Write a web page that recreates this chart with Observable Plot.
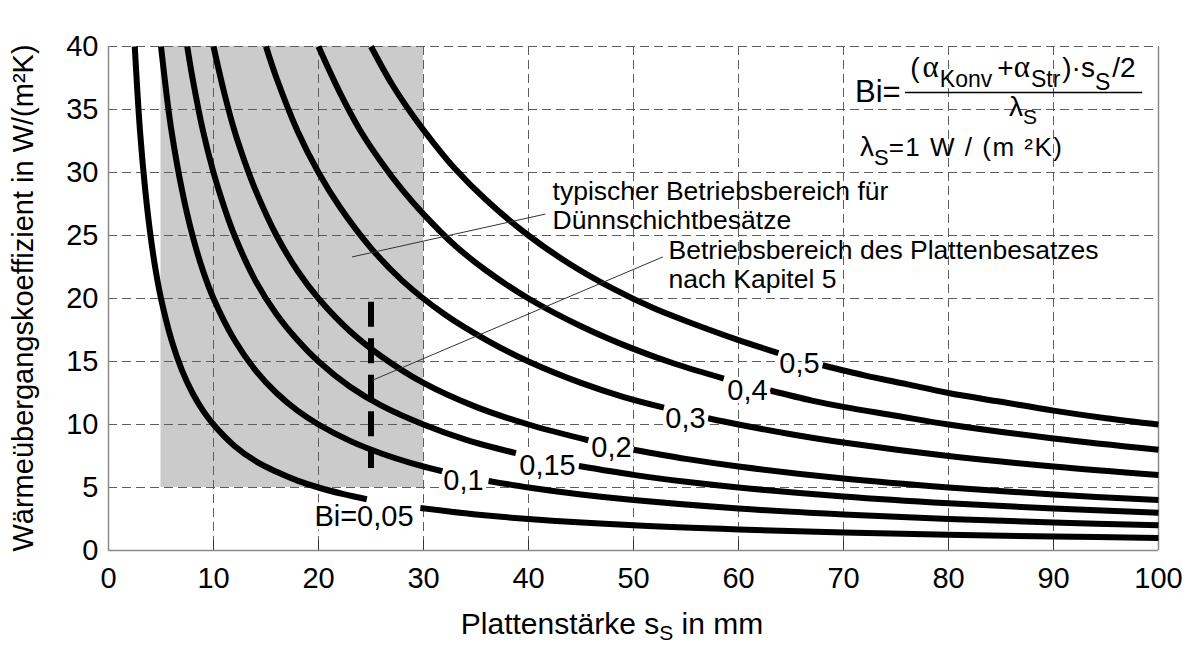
<!DOCTYPE html>
<html><head><meta charset="utf-8">
<script src="https://cdn.jsdelivr.net/npm/d3@7"></script>
<script src="https://cdn.jsdelivr.net/npm/@observablehq/plot@0.6"></script>
<style>
html,body{margin:0;padding:0;background:#fff;}
#chart svg{display:block;}
</style></head><body><div id="chart"></div>
<script>
// ---- data ----
const xTicks = [0, 10, 20, 30, 40, 50, 60, 70, 80, 90, 100];
const yTicks = [0, 5, 10, 15, 20, 25, 30, 35, 40];
const biLabels = ["Bi=0,05", "0,1", "0,15", "0,2", "0,3", "0,4", "0,5"];

const s005 = [2.5, 3, 3.5, 4, 4.5, 5, 6, 7, 8, 9, 10, 12, 14, 16, 18, 20, 22.5, 24.6, 27, 29.7, 35, 40, 50, 60, 70, 80, 90, 100];
const h005 = [40, 33.3, 28.6, 25, 22.2, 20, 16.7, 14.3, 12.5, 11.1, 10, 8.3, 7.1, 6.25, 5.55, 5, 4.45, 4.07, NaN, 3.37, 2.86, 2.5, 2, 1.67, 1.43, 1.25, 1.11, 1];
const s01 = [5, 5.5, 6, 7, 8, 9, 10, 12, 14, 16, 18, 20, 23, 26, 29, 31.8, 34, 36.2, 40, 45, 50, 60, 70, 80, 90, 100];
const h01 = [40, 36.4, 33.3, 28.6, 25, 22.2, 20, 16.7, 14.3, 12.5, 11.1, 10, 8.7, 7.7, 6.9, 6.29, NaN, 5.52, 5, 4.44, 4, 3.33, 2.86, 2.5, 2.22, 2];
const s015 = [7.5, 8, 9, 10, 11, 12, 14, 16, 18, 20, 23, 26, 30, 34, 38.8, 42, 44.8, 50, 55, 60, 70, 80, 90, 100];
const h015 = [40, 37.5, 33.3, 30, 27.3, 25, 21.4, 18.75, 16.7, 15, 13, 11.5, 10, 8.8, 7.73, NaN, 6.7, 6, 5.45, 5, 4.29, 3.75, 3.33, 3];
const s02 = [10, 11, 12, 13, 14, 16, 18, 20, 23, 26, 30, 35, 40, 45.7, 48, 50, 55, 60, 70, 80, 90, 100];
const h02 = [40, 36.4, 33.3, 30.8, 28.6, 25, 22.2, 20, 17.4, 15.4, 13.3, 11.4, 10, 8.75, NaN, 8, 7.27, 6.67, 5.71, 5, 4.44, 4];
const s03 = [15, 16, 18, 20, 22, 25, 28, 32, 36, 40, 45, 49, 52.9, 55, 57.1, 60, 65, 70, 80, 90, 100];
const h03 = [40, 37.5, 33.3, 30, 27.3, 24, 21.4, 18.75, 16.7, 15, 13.3, 12.2, 11.34, NaN, 10.5, 10, 9.23, 8.57, 7.5, 6.67, 6];
const s04 = [20, 22, 24, 26, 28, 30, 33, 36, 40, 45, 50, 54, 58.6, 61, 63, 67, 70, 75, 80, 90, 100];
const h04 = [40, 36.4, 33.3, 30.8, 28.6, 26.7, 24.2, 22.2, 20, 17.8, 16, 14.8, 13.65, NaN, 12.7, 11.9, 11.4, 10.7, 10, 8.89, 8];
const s05 = [25, 27, 29, 31, 33, 36, 40, 44, 48, 52, 56, 60, 63.8, 66, 68, 72, 76, 80, 85, 90, 95, 100];
const h05 = [40, 37, 34.5, 32.3, 30.3, 27.8, 25, 22.7, 20.8, 19.2, 17.9, 16.7, 15.67, NaN, 14.7, 13.9, 13.2, 12.5, 11.8, 11.1, 10.5, 10];

const labelS = [24.33, 33.81, 41.81, 47.9, 54.95, 60.86, 65.81];
const labelH = [2.7, 5.56, 6.75, 8.17, 10.48, 12.7, 14.84];

const regionS = [5, 30];
const regionH = [5, 40];
const markerS = 25;
const markerH = [19.7, 6.5];

const leaderS1 = [23.2, 41.6], leaderH1 = [23.3, 26.7];
const leaderS2 = [25.1, 52.8], leaderH2 = [13.5, 23.3];

const annotText = ["typischer Betriebsbereich für", "Dünnschichtbesätze", "Betriebsbereich des Plattenbesatzes", "nach Kapitel 5"];
const annotS = [42.29, 42.29, 53.33, 53.33];
const annotH = [27.78, 25.48, 23.1, 20.87];

// ---- tables ----
const seriesS = [s005, s01, s015, s02, s03, s04, s05];
const seriesH = [h005, h01, h015, h02, h03, h04, h05];
const curves = seriesS.flatMap((ss, i) => ss.map((s, j) => ({bi: biLabels[i], s, h: seriesH[i][j]})));
const labels = biLabels.map((t, i) => ({t, s: labelS[i], h: labelH[i]}));
const leaders = [
  {x1: leaderS1[0], x2: leaderS1[1], y1: leaderH1[0], y2: leaderH1[1]},
  {x1: leaderS2[0], x2: leaderS2[1], y1: leaderH2[0], y2: leaderH2[1]}
];
const annots = annotText.map((t, i) => ({t, s: annotS[i], h: annotH[i]}));

const FONT = "'Liberation Sans', Arial, Helvetica, sans-serif";
const SERIF = "'Liberation Serif', 'DejaVu Serif', serif";
const gridStyle = {stroke: "#5e5e5e", strokeOpacity: 1, strokeWidth: 1, strokeDasharray: "9,5"};

const plot = Plot.plot({
  width: 1190, height: 648,
  marginLeft: 108, marginRight: 32, marginTop: 46, marginBottom: 98,
  x: {domain: [0, 100]},
  y: {domain: [0, 40]},
  style: {fontFamily: FONT, fontSize: "29px", color: "#000", background: "#fff"},
  marks: [
    Plot.rect([{x1: regionS[0], x2: regionS[1], y1: regionH[0], y2: regionH[1]}],
      {x1: "x1", x2: "x2", y1: "y1", y2: "y2", fill: "#cbcbcb"}),
    Plot.gridX(xTicks.slice(1, -1), gridStyle),
    Plot.gridY(yTicks.slice(1), gridStyle),
    Plot.ruleX(xTicks.slice(1, -1), {y1: 0, y2: 0.8, stroke: "#333", strokeWidth: 1}),
    Plot.ruleX([0, 100], {stroke: "#8a8a8a", strokeWidth: 1.5}),
    Plot.ruleY([0], {stroke: "#8a8a8a", strokeWidth: 1.5}),
    Plot.axisX(xTicks, {tickSize: 0, tickPadding: 17, fontSize: 29, label: null}),
    Plot.axisY(yTicks, {tickSize: 0, tickPadding: 10, fontSize: 29, label: null}),
    Plot.line(curves, {x: "s", y: "h", z: "bi", stroke: "#000", strokeWidth: 6,
      curve: "catmull-rom", strokeLinecap: "butt", strokeLinejoin: "round"}),
    Plot.ruleX([markerS], {y1: markerH[0], y2: markerH[1], stroke: "#000", strokeWidth: 6, strokeDasharray: "25,11.5"}),
    Plot.link(leaders, {x1: "x1", y1: "y1", x2: "x2", y2: "y2", stroke: "#333", strokeWidth: 1}),
    Plot.text(labels, {x: "s", y: "h", text: "t", fontSize: 29, fill: "#000", stroke: "#fff", strokeWidth: 7}),
    Plot.text(annots, {x: "s", y: "h", text: "t", fontSize: 26.5, textAnchor: "start", lineAnchor: "bottom", fill: "#000"})
  ]
});

document.getElementById("chart").appendChild(plot);

// ---- rich-text annotations (axis titles with subscripts, formula) ----
const X = plot.scale("x"), Y = plot.scale("y");
const svg = d3.select(plot);
const g = svg.append("g").attr("font-family", FONT).attr("fill", "#000").attr("text-anchor", "start");

// y axis title
g.append("text")
  .attr("transform", `translate(33,${(Y.apply(0) + Y.apply(40)) / 2}) rotate(-90)`)
  .attr("text-anchor", "middle").attr("font-size", 29)
  .text("Wärmeübergangskoeffizient in W/(m²K)");

// x axis title
const xt = g.append("text")
  .attr("x", X.apply(48)).attr("y", 634)
  .attr("text-anchor", "middle").attr("font-size", 30);
xt.append("tspan").text("Plattenstärke s");
xt.append("tspan").attr("font-size", 21).attr("dy", 6).text("S");
xt.append("tspan").attr("dy", -6).text(" in mm");

// formula
g.append("text").attr("x", X.apply(71.14)).attr("y", Y.apply(35.56))
  .attr("text-anchor", "start").attr("font-size", 31).text("Bi=");

const num = g.append("text").attr("x", X.apply(87.14)).attr("y", Y.apply(37.54))
  .attr("text-anchor", "middle").attr("font-size", 28);
num.append("tspan").text("(");
num.append("tspan").attr("font-family", SERIF).attr("font-size", 31).attr("dx", 3).text("α");
num.append("tspan").attr("font-size", 23).attr("dy", 10).attr("dx", 1).text("Konv");
num.append("tspan").attr("dy", -10).attr("dx", 5).text("+");
num.append("tspan").attr("font-family", SERIF).attr("font-size", 31).text("α");
num.append("tspan").attr("font-size", 23).attr("dy", 10).attr("dx", 1).text("Str");
num.append("tspan").attr("dy", -10).attr("dx", 2).text(")·s");
num.append("tspan").attr("font-size", 23).attr("dy", 13).text("S");
num.append("tspan").attr("dy", -13).attr("dx", 2).text("/2");

g.append("line")
  .attr("x1", X.apply(75.9)).attr("x2", X.apply(98.5))
  .attr("y1", Y.apply(36.31)).attr("y2", Y.apply(36.31))
  .attr("stroke", "#000").attr("stroke-width", 1.5);

const den = g.append("text").attr("x", X.apply(87.14)).attr("y", Y.apply(34.45))
  .attr("text-anchor", "middle").attr("font-size", 28);
den.append("tspan").text("λ");
den.append("tspan").attr("font-size", 21).attr("dy", 8).text("S");

const l2 = g.append("text").attr("x", X.apply(71.62)).attr("y", Y.apply(31.3))
  .attr("text-anchor", "start").attr("font-size", 26);
l2.append("tspan").attr("font-size", 28).text("λ");
l2.append("tspan").attr("font-size", 22).attr("dy", 9).text("S");
l2.append("tspan").attr("dy", -9).attr("letter-spacing", 1.5).text("=1 W / (m ²K)");
</script>
</body></html>
